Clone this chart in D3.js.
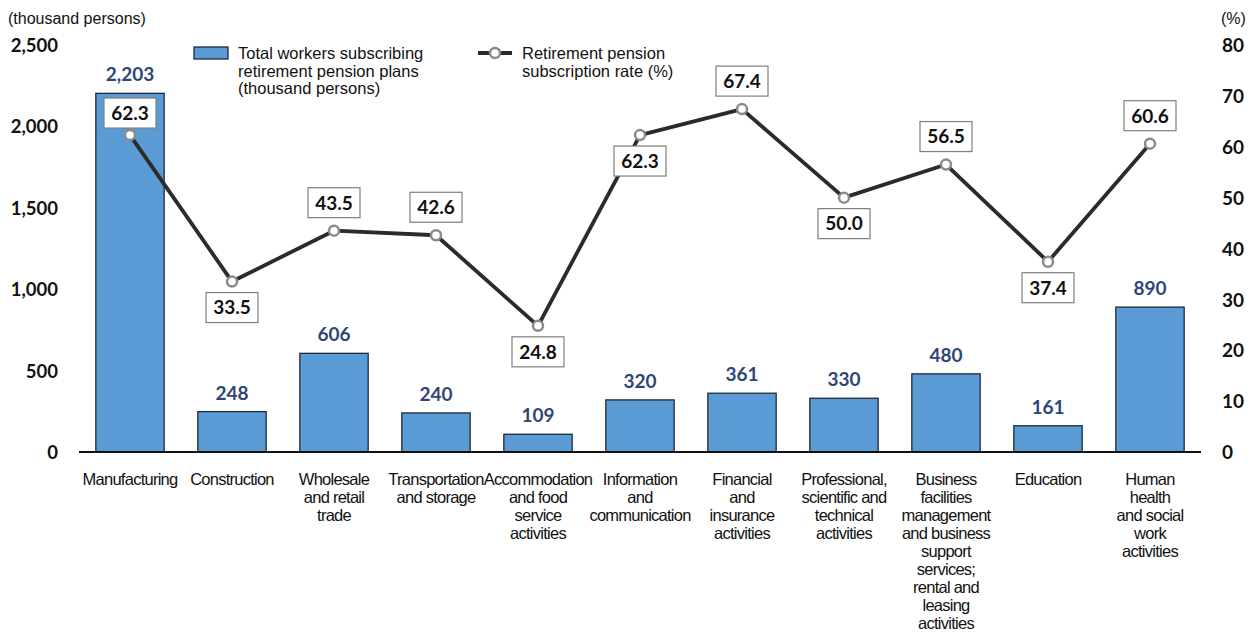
<!DOCTYPE html>
<html>
<head>
<meta charset="utf-8">
<script src="https://cdn.jsdelivr.net/npm/d3@7"></script>
<style>
  html, body { margin: 0; padding: 0; background: #fff; }
  svg { display: block; }
  .num { font-family: Lato, "Open Sans", sans-serif; font-weight: 700; }
  .txt { font-family: "Liberation Sans", Arial, sans-serif; }
</style>
</head>
<body>
<svg id="chart" width="1254" height="634"></svg>
<script>
// Industry categories (line breaks as displayed under the axis)
const categories = [
  ["Manufacturing"],
  ["Construction"],
  ["Wholesale", "and retail", "trade"],
  ["Transportation", "and storage"],
  ["Accommodation", "and food", "service", "activities"],
  ["Information", "and", "communication"],
  ["Financial", "and", "insurance", "activities"],
  ["Professional,", "scientific and", "technical", "activities"],
  ["Business", "facilities", "management", "and business", "support", "services;", "rental and", "leasing", "activities"],
  ["Education"],
  ["Human", "health", "and social", "work", "activities"]
];

// Total workers subscribing retirement pension plans (thousand persons)
const workers = [2203, 248, 606, 240, 109, 320, 361, 330, 480, 161, 890];

// Retirement pension subscription rate (%)
const rates = [62.3, 33.5, 43.5, 42.6, 24.8, 62.3, 67.4, 50.0, 56.5, 37.4, 60.6];

// Which side of the point each rate label sits on
const rateLabelSide = ["above", "below", "above", "above", "below", "below", "above", "below", "above", "below", "above"];

const leftTicks = [0, 500, 1000, 1500, 2000, 2500];
const rightTicks = [0, 10, 20, 30, 40, 50, 60, 70, 80];

const svg = d3.select("#chart");

const plot = { left: 79, right: 1201, top: 45, bottom: 452 };

const x = d3.scaleBand()
  .domain(d3.range(categories.length))
  .range([plot.left, plot.right])
  .paddingInner(0.33)
  .paddingOuter(0.165);

const yL = d3.scaleLinear().domain([0, 2500]).range([plot.bottom, plot.top]);
const yR = d3.scaleLinear().domain([0, 80]).range([plot.bottom, plot.top]);

// Left axis labels
const leftAxis = d3.axisLeft(yL).tickValues(leftTicks).tickSize(0).tickPadding(0)
  .tickFormat(d3.format(","));
svg.append("g")
  .attr("transform", `translate(${58},0)`)
  .call(leftAxis)
  .call(g => g.select(".domain").remove())
  .call(g => g.selectAll("text")
    .attr("class", "num").attr("font-size", 18.5).attr("fill", "#111").attr("dy", "0.35em"));

// Right axis labels
const rightAxis = d3.axisRight(yR).tickValues(rightTicks).tickSize(0).tickPadding(0);
svg.append("g")
  .attr("transform", `translate(${1222},0)`)
  .call(rightAxis)
  .call(g => g.select(".domain").remove())
  .call(g => g.selectAll("text")
    .attr("class", "num").attr("font-size", 19).attr("fill", "#111").attr("dy", "0.35em"));

// Unit captions
svg.append("text").attr("class", "txt").attr("x", 8).attr("y", 24)
  .attr("font-size", 16).attr("fill", "#111")
  .text("(thousand persons)");
svg.append("text").attr("class", "txt").attr("x", 1221).attr("y", 24)
  .attr("font-size", 16).attr("fill", "#111")
  .text("(%)");

// Bars
svg.append("g").selectAll("rect")
  .data(workers)
  .join("rect")
  .attr("x", (d, i) => x(i))
  .attr("width", x.bandwidth())
  .attr("y", d => yL(d))
  .attr("height", d => yL(0) - yL(d))
  .attr("fill", "#5B9BD5")
  .attr("stroke", "#1e2a38")
  .attr("stroke-width", 1.3);

// Bar value labels
svg.append("g").selectAll("text")
  .data(workers)
  .join("text")
  .attr("class", "num")
  .attr("x", (d, i) => x(i) + x.bandwidth() / 2)
  .attr("y", d => yL(d) - 12)
  .attr("text-anchor", "middle")
  .attr("font-size", 19)
  .attr("fill", "#2E4677")
  .text(d => d3.format(",")(d));

// Baseline
svg.append("line")
  .attr("x1", plot.left).attr("x2", plot.right)
  .attr("y1", plot.bottom).attr("y2", plot.bottom)
  .attr("stroke", "#111").attr("stroke-width", 2.2);

// Category labels
const catG = svg.append("g");
categories.forEach((lines, i) => {
  const t = catG.append("text")
    .attr("class", "txt")
    .attr("x", x(i) + x.bandwidth() / 2)
    .attr("y", 485)
    .attr("text-anchor", "middle")
    .attr("font-size", 16.5)
    .attr("letter-spacing", -0.75)
    .attr("fill", "#111");
  lines.forEach((ln, j) => {
    t.append("tspan")
      .attr("x", x(i) + x.bandwidth() / 2)
      .attr("dy", j === 0 ? 0 : 18)
      .text(ln);
  });
});

// Rate line
const cx = i => x(i) + x.bandwidth() / 2;
const line = d3.line().x((d, i) => cx(i)).y(d => yR(d));
svg.append("path")
  .datum(rates)
  .attr("d", line)
  .attr("fill", "none")
  .attr("stroke", "#2b2b2b")
  .attr("stroke-width", 3.8)
  .attr("stroke-linejoin", "round");

svg.append("g").selectAll("circle")
  .data(rates)
  .join("circle")
  .attr("cx", (d, i) => cx(i))
  .attr("cy", d => yR(d))
  .attr("r", 5)
  .attr("fill", "#fff")
  .attr("stroke", "#8a8a8a")
  .attr("stroke-width", 2.5);

// Rate labels in boxes
const boxW = 52, boxH = 30;
const lblG = svg.append("g").selectAll("g")
  .data(rates)
  .join("g")
  .attr("transform", (d, i) => {
    const off = rateLabelSide[i] === "above" ? -(i === 0 ? 22 : 28) : 26;
    return `translate(${cx(i)},${yR(d) + off})`;
  });
lblG.append("rect")
  .attr("x", -boxW / 2).attr("y", -boxH / 2)
  .attr("width", boxW).attr("height", boxH)
  .attr("fill", "#fff")
  .attr("stroke", "#7f7f7f")
  .attr("stroke-width", 1.2);
lblG.append("text")
  .attr("class", "num")
  .attr("text-anchor", "middle")
  .attr("dy", "0.36em")
  .attr("font-size", 19)
  .attr("fill", "#111")
  .text(d => d3.format(".1f")(d));

// Legend
const leg = svg.append("g");
leg.append("rect").attr("x", 194).attr("y", 47).attr("width", 34).attr("height", 12)
  .attr("fill", "#5B9BD5").attr("stroke", "#1e2a38").attr("stroke-width", 1.3);
const legT1 = leg.append("text").attr("class", "txt").attr("x", 238).attr("y", 59)
  .attr("font-size", 16.5).attr("fill", "#111");
["Total workers subscribing", "retirement pension plans", "(thousand persons)"].forEach((s, j) =>
  legT1.append("tspan").attr("x", 238).attr("dy", j ? 17.5 : 0).text(s));

leg.append("line").attr("x1", 478).attr("x2", 512).attr("y1", 53).attr("y2", 53)
  .attr("stroke", "#2b2b2b").attr("stroke-width", 3.8);
leg.append("circle").attr("cx", 495).attr("cy", 53).attr("r", 5)
  .attr("fill", "#fff").attr("stroke", "#8a8a8a").attr("stroke-width", 2.5);
const legT2 = leg.append("text").attr("class", "txt").attr("x", 522).attr("y", 59)
  .attr("font-size", 16.5).attr("fill", "#111");
["Retirement pension", "subscription rate (%)"].forEach((s, j) =>
  legT2.append("tspan").attr("x", 522).attr("dy", j ? 17.5 : 0).text(s));
</script>
</body>
</html>
